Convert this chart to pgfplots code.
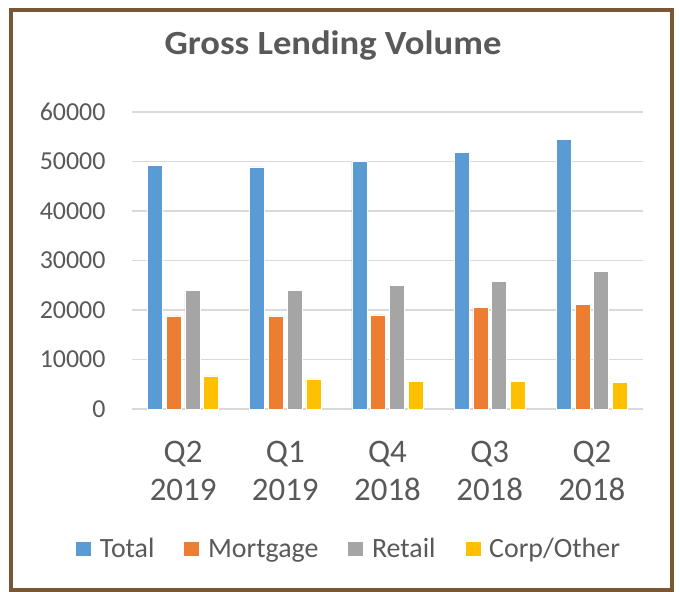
\documentclass[border=0pt]{standalone}
\usepackage{pgfplots}
\pgfplotsset{compat=1.18}
\usepackage{fontspec}
\setmainfont{Carlito}
\newfontfamily\titlefont{Carlito}[FakeStretch=1.08]
\definecolor{cTotal}{HTML}{5B9BD5}
\definecolor{cMort}{HTML}{ED7D31}
\definecolor{cRet}{HTML}{A5A5A5}
\definecolor{cCorp}{HTML}{FFC000}
\definecolor{txt}{HTML}{595959}
\definecolor{brd}{HTML}{7B5634}
\definecolor{grd}{HTML}{D9D9D9}
\begin{document}
\begin{tikzpicture}
\useasboundingbox (0,0) rectangle (680bp,-592bp);
\fill[white] (0,0) rectangle (680bp,-592bp);
\draw[color=brd, line width=4bp] (11bp,-10bp) rectangle (672bp,-590bp);
\node[font=\titlefont\fontsize{34}{40}\selectfont\bfseries, text=txt] at (333bp,-45bp) {Gross Lending Volume};
\begin{axis}[
  at={(132bp,-409bp)}, anchor=south west,
  scale only axis, width=511bp, height=297bp,
  ymin=0, ymax=60000, ytick={0,10000,...,60000},
  xmin=-0.5, xmax=4.5, xtick={0,1,2,3,4},
  xticklabels={{Q2\\2019},{Q1\\2019},{Q4\\2018},{Q3\\2018},{Q2\\2018}},
  scaled y ticks=false,
  /pgf/number format/assume math mode=true,
  /pgf/number format/set thousands separator={},
  yticklabel style={font=\fontsize{26}{30}\selectfont, text=txt, xshift=-23bp},
  xticklabel style={font=\fontsize{33}{38}\selectfont, text=txt, align=center, yshift=-29bp},
  axis line style={draw=none},
  major tick length=0pt,
  ymajorgrids, major grid style={grd, line width=1.3bp},
  ybar=3.7bp, bar width=15bp,
  legend columns=-1,
  legend style={at={(0.424,-0.471)}, anchor=center, draw=none, fill=none,
    font=\fontsize{28}{32}\selectfont, text=txt,
    /tikz/every even column/.append style={column sep=27bp}},
  legend image code/.code={\fill[#1] (0bp,-7.5bp) rectangle (16bp,7.5bp); \path (22bp,0bp);},
]
\addplot[fill=cTotal, draw=white, line width=0.6bp] coordinates {(0,49200) (1,48900) (2,50000) (3,51800) (4,54400)};
\addplot[fill=cMort, draw=white, line width=0.6bp] coordinates {(0,18800) (1,18800) (2,19000) (3,20600) (4,21100)};
\addplot[fill=cRet, draw=white, line width=0.6bp] coordinates {(0,23900) (1,24000) (2,25000) (3,25700) (4,27800)};
\addplot[fill=cCorp, draw=white, line width=0.6bp] coordinates {(0,6700) (1,6100) (2,5600) (3,5600) (4,5300)};
\legend{Total, Mortgage, Retail, Corp/Other}
\end{axis}
\end{tikzpicture}
\end{document}
